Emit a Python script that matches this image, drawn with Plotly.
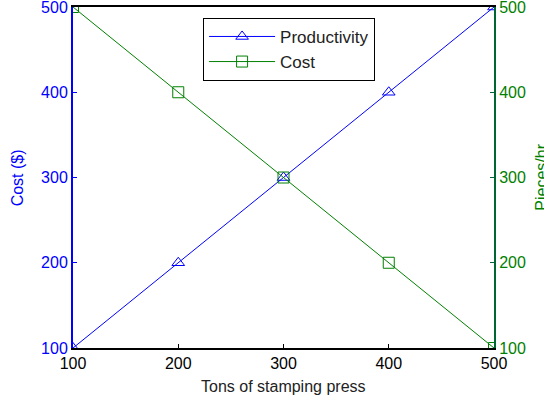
import plotly.graph_objects as go

tons = [100, 200, 300, 400, 500]
productivity = [100, 200, 300, 400, 500]
cost = [500, 400, 300, 200, 100]
tick_vals = [100, 200, 300, 400, 500]

BLUE = "#0000ff"
GREEN = "#008000"
AXGREEN = "#006633"
FONT = "Liberation Sans, Arial, sans-serif"

fig = go.Figure()
fig.add_trace(go.Scatter(
    x=tons, y=productivity, name="Productivity", mode="lines+markers",
    line=dict(color=BLUE, width=1),
    marker=dict(symbol="triangle-up-open", size=11, color=BLUE, line=dict(width=1)),
    yaxis="y",
))
fig.add_trace(go.Scatter(
    x=tons, y=cost, name="Cost", mode="lines+markers",
    line=dict(color=GREEN, width=1),
    marker=dict(symbol="square-open", size=11, color=GREEN, line=dict(width=1)),
    yaxis="y2",
))

fig.update_layout(
    width=544, height=407,
    margin=dict(l=73, r=50, t=7, b=59, autoexpand=False),
    paper_bgcolor="white", plot_bgcolor="white",
    font=dict(family=FONT, size=16, color="black"),
    showlegend=True,
    legend=dict(
        x=0.309, y=0.968, xanchor="left", yanchor="top",
        bgcolor="white", bordercolor="black", borderwidth=1,
        font=dict(size=17, color="#222222"),
        tracegroupgap=0, itemwidth=66,
    ),
    xaxis=dict(
        range=[100, 500], tickvals=tick_vals, automargin=False,
        showgrid=False, zeroline=False,
        showline=True, linecolor="black", linewidth=2, mirror=True,
        ticks="inside", ticklen=4, tickcolor="black",
        tickfont=dict(size=16, color="black"), ticklabeloverflow="allow",
    ),
    yaxis=dict(
        range=[100, 500], tickvals=tick_vals, automargin=False,
        showgrid=False, zeroline=False,
        showline=True, linecolor=BLUE, linewidth=2,
        ticks="inside", ticklen=4, tickcolor=BLUE,
        tickfont=dict(size=16, color=BLUE), ticklabeloverflow="allow",
    ),
    yaxis2=dict(
        range=[100, 500], tickvals=tick_vals, automargin=False,
        overlaying="y", side="right",
        showgrid=False, zeroline=False,
        showline=True, linecolor=AXGREEN, linewidth=2,
        ticks="inside", ticklen=4, tickcolor=AXGREEN,
        tickfont=dict(size=16, color=GREEN), ticklabeloverflow="allow",
    ),
    annotations=[
        dict(text="Tons of stamping press", xref="paper", yref="paper",
             x=0.5, y=-0.113, xanchor="center", yanchor="middle",
             showarrow=False, font=dict(size=16, color="#222222")),
        dict(text="Cost ($)", xref="paper", yref="paper",
             x=-0.131, y=0.5, xanchor="center", yanchor="middle", textangle=-90,
             showarrow=False, font=dict(size=16, color=BLUE)),
        dict(text="Pieces/hr", xref="paper", yref="paper",
             x=1.112, y=0.5, xanchor="center", yanchor="middle", textangle=-90,
             showarrow=False, font=dict(size=16, color=GREEN)),
    ],
)

fig.write_html("out.html", config={"displayModeBar": False},
               post_script="document.body.style.margin='0';")
